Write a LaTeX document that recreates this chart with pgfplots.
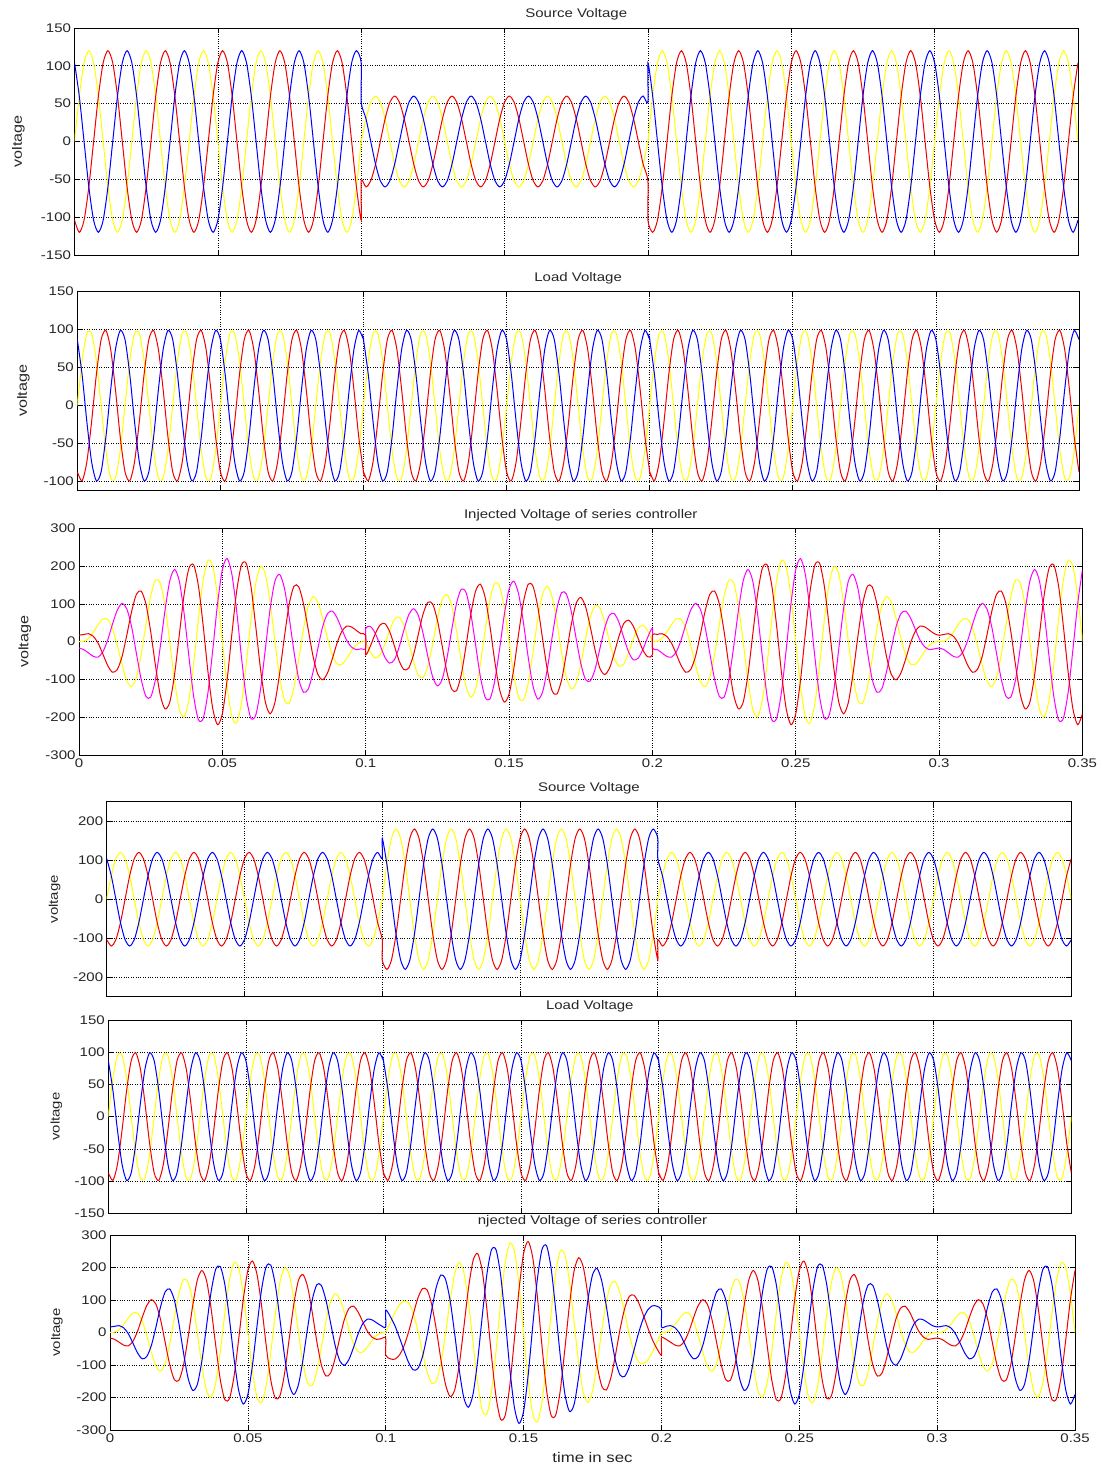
\documentclass[border=0pt]{standalone}
\usepackage{fontspec}
\setmainfont{Liberation Sans}[FakeStretch=1.2]
\usepackage{pgfplots}
\usepackage{pgfplotstable}
\pgfplotsset{compat=1.18}
\definecolor{Yel}{RGB}{255,255,0}
\definecolor{Red}{RGB}{240,0,0}
\definecolor{Blu}{RGB}{0,0,255}
\definecolor{Mag}{RGB}{255,0,255}

% k = sample index, 600 samples per second (t = k/600 s)
% s* source (sag), w* source (swell), l* load, d* injected (sag), e* injected (swell)
\pgfplotstableread{
k sy sr sb wy wr wb ly lr lb dy dr db ey er eb
0 0 -104 104 0 -104 104 0 -87 87 0 -17 17 0 -17 17
1 60 -120 60 60 -120 60 59 -99 41 1 -21 19 1 -21 19
2 104 -104 0 104 -104 0 95 -74 -21 9 -30 21 9 -30 21
3 120 -60 -60 120 -60 -60 95 -21 -74 25 -39 14 25 -39 14
4 104 0 -104 104 0 -104 59 41 -99 45 -41 -4 45 -41 -4
5 60 60 -120 60 60 -120 0 87 -87 60 -27 -33 60 -27 -33
6 0 104 -104 0 104 -104 -59 99 -41 59 4 -63 59 4 -63
7 -60 120 -60 -60 120 -60 -95 74 21 35 46 -81 35 46 -81
8 -104 104 0 -104 104 0 -95 21 74 -9 83 -74 -9 83 -74
9 -120 60 60 -120 60 60 -59 -41 99 -61 101 -40 -61 101 -40
10 -104 0 104 -104 0 104 0 -87 87 -104 87 17 -104 87 17
11 -60 -60 120 -60 -60 120 59 -99 41 -119 40 79 -119 40 79
12 0 -104 104 0 -104 104 95 -74 -21 -95 -30 125 -95 -30 125
13 60 -120 60 60 -120 60 95 -21 -74 -35 -99 134 -35 -99 134
14 104 -104 0 104 -104 0 59 41 -99 45 -145 100 45 -145 100
15 120 -60 -60 120 -60 -60 0 87 -87 120 -147 27 120 -147 27
16 104 0 -104 104 0 -104 -59 99 -41 163 -100 -63 163 -100 -63
17 60 60 -120 60 60 -120 -95 74 21 155 -14 -141 155 -14 -141
18 0 104 -104 0 104 -104 -95 21 74 95 83 -178 95 83 -178
19 -60 120 -60 -60 120 -60 -59 -41 99 -1 161 -160 -1 161 -160
20 -104 104 0 -104 104 0 0 -87 87 -104 191 -87 -104 191 -87
21 -120 60 60 -120 60 60 59 -99 41 -179 160 19 -179 160 19
22 -104 0 104 -104 0 104 95 -74 -21 -199 74 125 -199 74 125
23 -60 -60 120 -60 -60 120 95 -21 -74 -155 -39 194 -155 -39 194
24 0 -104 104 0 -104 104 59 41 -99 -59 -145 203 -59 -145 203
25 60 -120 60 60 -120 60 0 87 -87 60 -207 147 60 -207 147
26 104 -104 0 104 -104 0 -59 99 -41 163 -203 41 163 -203 41
27 120 -60 -60 120 -60 -60 -95 74 21 215 -134 -81 215 -134 -81
28 104 0 -104 104 0 -104 -95 21 74 199 -21 -178 199 -21 -178
29 60 60 -120 60 60 -120 -59 -41 99 119 101 -220 119 101 -220
30 0 104 -104 0 104 -104 0 -87 87 0 191 -191 0 191 -191
31 -60 120 -60 -60 120 -60 59 -99 41 -119 220 -101 -119 220 -101
32 -104 104 0 -104 104 0 95 -74 -21 -199 178 21 -199 178 21
33 -120 60 60 -120 60 60 95 -21 -74 -215 81 134 -215 81 134
34 -104 0 104 -104 0 104 59 41 -99 -163 -41 203 -163 -41 203
35 -60 -60 120 -60 -60 120 0 87 -87 -60 -147 207 -60 -147 207
36 0 -104 104 0 -104 104 -59 99 -41 59 -203 145 59 -203 145
37 60 -120 60 60 -120 60 -95 74 21 155 -194 39 155 -194 39
38 104 -104 0 104 -104 0 -95 21 74 199 -125 -74 199 -125 -74
39 120 -60 -60 120 -60 -60 -59 -41 99 179 -19 -160 179 -19 -160
40 104 0 -104 104 0 -104 0 -87 87 104 87 -191 104 87 -191
41 60 60 -120 60 60 -120 59 -99 41 1 160 -161 1 160 -161
42 0 104 -104 0 104 -104 95 -74 -21 -95 178 -83 -95 178 -83
43 -60 120 -60 -60 120 -60 95 -21 -74 -155 141 14 -155 141 14
44 -104 104 0 -104 104 0 59 41 -99 -163 63 100 -163 63 100
45 -120 60 60 -120 60 60 0 87 -87 -120 -27 147 -120 -27 147
46 -104 0 104 -104 0 104 -59 99 -41 -45 -100 145 -45 -100 145
47 -60 -60 120 -60 -60 120 -95 74 21 35 -134 99 35 -134 99
48 0 -104 104 0 -104 104 -95 21 74 95 -125 30 95 -125 30
49 60 -120 60 60 -120 60 -59 -41 99 119 -79 -40 119 -79 -40
50 104 -104 0 104 -104 0 0 -87 87 104 -17 -87 104 -17 -87
51 120 -60 -60 120 -60 -60 59 -99 41 61 40 -101 61 40 -101
52 104 0 -104 104 0 -104 95 -74 -21 9 74 -83 9 74 -83
53 60 60 -120 60 60 -120 95 -21 -74 -35 81 -46 -35 81 -46
54 0 104 -104 0 104 -104 59 41 -99 -59 63 -4 -59 63 -4
55 -60 120 -60 -60 120 -60 0 87 -87 -60 33 27 -60 33 27
56 -104 104 0 -104 104 0 -59 99 -41 -45 4 41 -45 4 41
57 -120 60 60 -120 60 60 -95 74 21 -25 -14 39 -25 -14 39
58 -104 0 104 -104 0 104 -95 21 74 -9 -21 30 -9 -21 30
59 -60 -60 120 -60 -60 120 -59 -41 99 -1 -19 21 -1 -19 21
60 0 -104 104 0 -104 104 0 -87 87 0 -17 17 0 -17 17
60 0 -52 52 0 -156 156 0 -87 87 0 35 -35 0 -69 69
61 30 -60 30 90 -180 90 59 -99 41 -29 40 -11 31 -81 49
62 52 -52 0 156 -156 0 95 -74 -21 -43 22 21 61 -82 21
63 60 -30 -30 180 -90 -90 95 -21 -74 -35 -9 44 85 -69 -16
64 52 0 -52 156 0 -156 59 41 -99 -7 -41 48 97 -41 -56
65 30 30 -60 90 90 -180 0 87 -87 30 -57 27 90 3 -93
66 0 52 -52 0 156 -156 -59 99 -41 59 -48 -11 59 56 -115
67 -30 60 -30 -90 180 -90 -95 74 21 65 -14 -51 5 106 -111
68 -52 52 0 -156 156 0 -95 21 74 43 31 -74 -61 135 -74
69 -60 30 30 -180 90 90 -59 -41 99 -1 71 -70 -121 131 -10
70 -52 0 52 -156 0 156 0 -87 87 -52 87 -35 -156 87 69
71 -30 -30 60 -90 -90 180 59 -99 41 -89 70 19 -149 10 139
72 0 -52 52 0 -156 156 95 -74 -21 -95 22 73 -95 -82 177
73 30 -60 30 90 -180 90 95 -21 -74 -65 -39 104 -5 -159 164
74 52 -52 0 156 -156 0 59 41 -99 -7 -93 100 97 -197 100
75 60 -30 -30 180 -90 -90 0 87 -87 60 -117 57 180 -177 -3
76 52 0 -52 156 0 -156 -59 99 -41 111 -100 -11 215 -100 -115
77 30 30 -60 90 90 -180 -95 74 21 125 -44 -81 185 16 -201
78 0 52 -52 0 156 -156 -95 21 74 95 31 -126 95 135 -230
79 -30 60 -30 -90 180 -90 -59 -41 99 29 101 -130 -31 221 -190
80 -52 52 0 -156 156 0 0 -87 87 -52 139 -87 -156 243 -87
81 -60 30 30 -180 90 90 59 -99 41 -119 130 -11 -239 190 49
82 -52 0 52 -156 0 156 95 -74 -21 -147 74 73 -251 74 177
83 -30 -30 60 -90 -90 180 95 -21 -74 -125 -9 134 -185 -69 254
84 0 -52 52 0 -156 156 59 41 -99 -59 -93 152 -59 -197 255
85 30 -60 30 90 -180 90 0 87 -87 30 -147 117 90 -267 177
86 52 -52 0 156 -156 0 -59 99 -41 111 -152 41 215 -255 41
87 60 -30 -30 180 -90 -90 -95 74 21 155 -104 -51 275 -164 -111
88 52 0 -52 156 0 -156 -95 21 74 147 -21 -126 251 -21 -230
89 30 30 -60 90 90 -180 -59 -41 99 89 71 -160 149 131 -280
90 0 52 -52 0 156 -156 0 -87 87 0 139 -139 0 243 -243
91 -30 60 -30 -90 180 -90 59 -99 41 -89 160 -71 -149 280 -131
92 -52 52 0 -156 156 0 95 -74 -21 -147 126 21 -251 230 21
93 -60 30 30 -180 90 90 95 -21 -74 -155 51 104 -275 111 164
94 -52 0 52 -156 0 156 59 41 -99 -111 -41 152 -215 -41 255
95 -30 -30 60 -90 -90 180 0 87 -87 -30 -117 147 -90 -177 267
96 0 -52 52 0 -156 156 -59 99 -41 59 -152 93 59 -255 197
97 30 -60 30 90 -180 90 -95 74 21 125 -134 9 185 -254 69
98 52 -52 0 156 -156 0 -95 21 74 147 -73 -74 251 -177 -74
99 60 -30 -30 180 -90 -90 -59 -41 99 119 11 -130 239 -49 -190
100 52 0 -52 156 0 -156 0 -87 87 52 87 -139 156 87 -243
101 30 30 -60 90 90 -180 59 -99 41 -29 130 -101 31 190 -221
102 0 52 -52 0 156 -156 95 -74 -21 -95 126 -31 -95 230 -135
103 -30 60 -30 -90 180 -90 95 -21 -74 -125 81 44 -185 201 -16
104 -52 52 0 -156 156 0 59 41 -99 -111 11 100 -215 115 100
105 -60 30 30 -180 90 90 0 87 -87 -60 -57 117 -180 3 177
106 -52 0 52 -156 0 156 -59 99 -41 7 -100 93 -97 -100 197
107 -30 -30 60 -90 -90 180 -95 74 21 65 -104 39 5 -164 159
108 0 -52 52 0 -156 156 -95 21 74 95 -73 -22 95 -177 82
109 30 -60 30 90 -180 90 -59 -41 99 89 -19 -70 149 -139 -10
110 52 -52 0 156 -156 0 0 -87 87 52 35 -87 156 -69 -87
111 60 -30 -30 180 -90 -90 59 -99 41 1 70 -71 121 10 -131
112 52 0 -52 156 0 -156 95 -74 -21 -43 74 -31 61 74 -135
113 30 30 -60 90 90 -180 95 -21 -74 -65 51 14 -5 111 -106
114 0 52 -52 0 156 -156 59 41 -99 -59 11 48 -59 115 -56
115 -30 60 -30 -90 180 -90 0 87 -87 -30 -27 57 -90 93 -3
116 -52 52 0 -156 156 0 -59 99 -41 7 -48 41 -97 56 41
117 -60 30 30 -180 90 90 -95 74 21 35 -44 9 -85 16 69
118 -52 0 52 -156 0 156 -95 21 74 43 -21 -22 -61 -21 82
119 -30 -30 60 -90 -90 180 -59 -41 99 29 11 -40 -31 -49 81
120 0 -52 52 0 -156 156 0 -87 87 0 35 -35 0 -69 69
120 0 -104 104 0 -104 104 0 -87 87 0 -17 17 0 -17 17
121 60 -120 60 60 -120 60 59 -99 41 1 -21 19 1 -21 19
122 104 -104 0 104 -104 0 95 -74 -21 9 -30 21 9 -30 21
123 120 -60 -60 120 -60 -60 95 -21 -74 25 -39 14 25 -39 14
124 104 0 -104 104 0 -104 59 41 -99 45 -41 -4 45 -41 -4
125 60 60 -120 60 60 -120 0 87 -87 60 -27 -33 60 -27 -33
126 0 104 -104 0 104 -104 -59 99 -41 59 4 -63 59 4 -63
127 -60 120 -60 -60 120 -60 -95 74 21 35 46 -81 35 46 -81
128 -104 104 0 -104 104 0 -95 21 74 -9 83 -74 -9 83 -74
129 -120 60 60 -120 60 60 -59 -41 99 -61 101 -40 -61 101 -40
130 -104 0 104 -104 0 104 0 -87 87 -104 87 17 -104 87 17
131 -60 -60 120 -60 -60 120 59 -99 41 -119 40 79 -119 40 79
132 0 -104 104 0 -104 104 95 -74 -21 -95 -30 125 -95 -30 125
133 60 -120 60 60 -120 60 95 -21 -74 -35 -99 134 -35 -99 134
134 104 -104 0 104 -104 0 59 41 -99 45 -145 100 45 -145 100
135 120 -60 -60 120 -60 -60 0 87 -87 120 -147 27 120 -147 27
136 104 0 -104 104 0 -104 -59 99 -41 163 -100 -63 163 -100 -63
137 60 60 -120 60 60 -120 -95 74 21 155 -14 -141 155 -14 -141
138 0 104 -104 0 104 -104 -95 21 74 95 83 -178 95 83 -178
139 -60 120 -60 -60 120 -60 -59 -41 99 -1 161 -160 -1 161 -160
140 -104 104 0 -104 104 0 0 -87 87 -104 191 -87 -104 191 -87
141 -120 60 60 -120 60 60 59 -99 41 -179 160 19 -179 160 19
142 -104 0 104 -104 0 104 95 -74 -21 -199 74 125 -199 74 125
143 -60 -60 120 -60 -60 120 95 -21 -74 -155 -39 194 -155 -39 194
144 0 -104 104 0 -104 104 59 41 -99 -59 -145 203 -59 -145 203
145 60 -120 60 60 -120 60 0 87 -87 60 -207 147 60 -207 147
146 104 -104 0 104 -104 0 -59 99 -41 163 -203 41 163 -203 41
147 120 -60 -60 120 -60 -60 -95 74 21 215 -134 -81 215 -134 -81
148 104 0 -104 104 0 -104 -95 21 74 199 -21 -178 199 -21 -178
149 60 60 -120 60 60 -120 -59 -41 99 119 101 -220 119 101 -220
150 0 104 -104 0 104 -104 0 -87 87 0 191 -191 0 191 -191
151 -60 120 -60 -60 120 -60 59 -99 41 -119 220 -101 -119 220 -101
152 -104 104 0 -104 104 0 95 -74 -21 -199 178 21 -199 178 21
153 -120 60 60 -120 60 60 95 -21 -74 -215 81 134 -215 81 134
154 -104 0 104 -104 0 104 59 41 -99 -163 -41 203 -163 -41 203
155 -60 -60 120 -60 -60 120 0 87 -87 -60 -147 207 -60 -147 207
156 0 -104 104 0 -104 104 -59 99 -41 59 -203 145 59 -203 145
157 60 -120 60 60 -120 60 -95 74 21 155 -194 39 155 -194 39
158 104 -104 0 104 -104 0 -95 21 74 199 -125 -74 199 -125 -74
159 120 -60 -60 120 -60 -60 -59 -41 99 179 -19 -160 179 -19 -160
160 104 0 -104 104 0 -104 0 -87 87 104 87 -191 104 87 -191
161 60 60 -120 60 60 -120 59 -99 41 1 160 -161 1 160 -161
162 0 104 -104 0 104 -104 95 -74 -21 -95 178 -83 -95 178 -83
163 -60 120 -60 -60 120 -60 95 -21 -74 -155 141 14 -155 141 14
164 -104 104 0 -104 104 0 59 41 -99 -163 63 100 -163 63 100
165 -120 60 60 -120 60 60 0 87 -87 -120 -27 147 -120 -27 147
166 -104 0 104 -104 0 104 -59 99 -41 -45 -100 145 -45 -100 145
167 -60 -60 120 -60 -60 120 -95 74 21 35 -134 99 35 -134 99
168 0 -104 104 0 -104 104 -95 21 74 95 -125 30 95 -125 30
169 60 -120 60 60 -120 60 -59 -41 99 119 -79 -40 119 -79 -40
170 104 -104 0 104 -104 0 0 -87 87 104 -17 -87 104 -17 -87
171 120 -60 -60 120 -60 -60 59 -99 41 61 40 -101 61 40 -101
172 104 0 -104 104 0 -104 95 -74 -21 9 74 -83 9 74 -83
173 60 60 -120 60 60 -120 95 -21 -74 -35 81 -46 -35 81 -46
174 0 104 -104 0 104 -104 59 41 -99 -59 63 -4 -59 63 -4
175 -60 120 -60 -60 120 -60 0 87 -87 -60 33 27 -60 33 27
176 -104 104 0 -104 104 0 -59 99 -41 -45 4 41 -45 4 41
177 -120 60 60 -120 60 60 -95 74 21 -25 -14 39 -25 -14 39
178 -104 0 104 -104 0 104 -95 21 74 -9 -21 30 -9 -21 30
179 -60 -60 120 -60 -60 120 -59 -41 99 -1 -19 21 -1 -19 21
180 0 -104 104 0 -104 104 0 -87 87 0 -17 17 0 -17 17
181 60 -120 60 60 -120 60 59 -99 41 1 -21 19 1 -21 19
182 104 -104 0 104 -104 0 95 -74 -21 9 -30 21 9 -30 21
183 120 -60 -60 120 -60 -60 95 -21 -74 25 -39 14 25 -39 14
184 104 0 -104 104 0 -104 59 41 -99 45 -41 -4 45 -41 -4
185 60 60 -120 60 60 -120 0 87 -87 60 -27 -33 60 -27 -33
186 0 104 -104 0 104 -104 -59 99 -41 59 4 -63 59 4 -63
187 -60 120 -60 -60 120 -60 -95 74 21 35 46 -81 35 46 -81
188 -104 104 0 -104 104 0 -95 21 74 -9 83 -74 -9 83 -74
189 -120 60 60 -120 60 60 -59 -41 99 -61 101 -40 -61 101 -40
190 -104 0 104 -104 0 104 0 -87 87 -104 87 17 -104 87 17
191 -60 -60 120 -60 -60 120 59 -99 41 -119 40 79 -119 40 79
192 0 -104 104 0 -104 104 95 -74 -21 -95 -30 125 -95 -30 125
193 60 -120 60 60 -120 60 95 -21 -74 -35 -99 134 -35 -99 134
194 104 -104 0 104 -104 0 59 41 -99 45 -145 100 45 -145 100
195 120 -60 -60 120 -60 -60 0 87 -87 120 -147 27 120 -147 27
196 104 0 -104 104 0 -104 -59 99 -41 163 -100 -63 163 -100 -63
197 60 60 -120 60 60 -120 -95 74 21 155 -14 -141 155 -14 -141
198 0 104 -104 0 104 -104 -95 21 74 95 83 -178 95 83 -178
199 -60 120 -60 -60 120 -60 -59 -41 99 -1 161 -160 -1 161 -160
200 -104 104 0 -104 104 0 0 -87 87 -104 191 -87 -104 191 -87
201 -120 60 60 -120 60 60 59 -99 41 -179 160 19 -179 160 19
202 -104 0 104 -104 0 104 95 -74 -21 -199 74 125 -199 74 125
203 -60 -60 120 -60 -60 120 95 -21 -74 -155 -39 194 -155 -39 194
204 0 -104 104 0 -104 104 59 41 -99 -59 -145 203 -59 -145 203
205 60 -120 60 60 -120 60 0 87 -87 60 -207 147 60 -207 147
206 104 -104 0 104 -104 0 -59 99 -41 163 -203 41 163 -203 41
207 120 -60 -60 120 -60 -60 -95 74 21 215 -134 -81 215 -134 -81
208 104 0 -104 104 0 -104 -95 21 74 199 -21 -178 199 -21 -178
209 60 60 -120 60 60 -120 -59 -41 99 119 101 -220 119 101 -220
210 0 104 -104 0 104 -104 0 -87 87 0 191 -191 0 191 -191
}\data

\pgfplotsset{
  panel/.style={
    scale only axis,
    xmin=0, xmax=210,
    xtick={0,30,...,210}, xticklabels={},
    grid=major,
    major grid style={black, dotted, line width=0.7pt},
    tick align=inside,
    major tick length=5pt,
    axis line style={black, line width=0.7pt},
    every tick/.style={black, line width=0.7pt},
    /pgf/number format/assume math mode=true,
    ticklabel style={font=\fontsize{12.5}{13}\selectfont, text=black!85},
    title style={at={(0.5,1)}, anchor=base, yshift=4pt, inner sep=0pt,
      font=\fontsize{12.5}{13}\selectfont, text=black!85},
    ylabel style={at={(axis description cs:0,0.5)}, anchor=center,
      font=\fontsize{13.5}{14}\selectfont, text=black!85},
    ylabel={voltage},
    every axis plot/.append style={line width=1pt, no markers, smooth, tension=0.45},
  },
}

\begin{document}
\begin{tikzpicture}
\path[use as bounding box] (0pt,0pt) rectangle (1101pt,1465pt);

% upper set: voltage sag
\begin{axis}[panel, at={(74.5pt,1210pt)}, width=1003.5pt, height=227pt,
  ymin=-150, ymax=150, ytick={-150,-100,...,150},
  title={Source Voltage}, ylabel style={yshift=56pt}]
\addplot[Yel] table[x=k,y=sy]{\data};
\addplot[Red] table[x=k,y=sr]{\data};
\addplot[Blu] table[x=k,y=sb]{\data};
\end{axis}

\begin{axis}[panel, at={(77.3pt,975pt)}, width=1001.7pt, height=198.3pt,
  ymin=-111, ymax=150, ytick={-100,-50,...,150},
  title={Load Voltage}, ylabel style={yshift=54pt}]
\addplot[Yel] table[x=k,y=ly]{\data};
\addplot[Red] table[x=k,y=lr]{\data};
\addplot[Blu] table[x=k,y=lb]{\data};
\end{axis}

\begin{axis}[panel, at={(79pt,710pt)}, width=1003.5pt, height=226.7pt,
  ymin=-300, ymax=300, ytick={-300,-200,...,300},
  xticklabels={0,0.05,0.1,0.15,0.2,0.25,0.3,0.35},
  title={Injected Voltage of series controller}, ylabel style={yshift=54pt}]
\addplot[Yel] table[x=k,y=dy]{\data};
\addplot[Mag] table[x=k,y=dr]{\data};
\addplot[Red] table[x=k,y=db]{\data};
\end{axis}

% lower set: voltage swell
\begin{axis}[panel, at={(106.7pt,468.3pt)}, width=964.5pt, height=195pt,
  ymin=-250, ymax=250, ytick={-200,-100,...,200},
  title={Source Voltage},
  ylabel style={yshift=52pt, font=\fontsize{12.5}{13}\selectfont}]
\addplot[Yel] table[x=k,y=wy]{\data};
\addplot[Red] table[x=k,y=wr]{\data};
\addplot[Blu] table[x=k,y=wb]{\data};
\end{axis}

\begin{axis}[panel, at={(108.3pt,251.7pt)}, width=963pt, height=193.3pt,
  ymin=-150, ymax=150, ytick={-150,-100,...,150},
  title={Load Voltage},
  ylabel style={yshift=52pt, font=\fontsize{12.5}{13}\selectfont}]
\addplot[Yel] table[x=k,y=ly]{\data};
\addplot[Red] table[x=k,y=lr]{\data};
\addplot[Blu] table[x=k,y=lb]{\data};
\end{axis}

\begin{axis}[panel, at={(110pt,35pt)}, width=965pt, height=195pt,
  ymin=-300, ymax=300, ytick={-300,-200,...,300},
  xticklabels={0,0.05,0.1,0.15,0.2,0.25,0.3,0.35},
  title={njected Voltage of series controller},
  ylabel style={yshift=53pt, font=\fontsize{12.5}{13}\selectfont},
  xlabel={time in sec},
  xlabel style={at={(axis description cs:0.5,0)}, anchor=base, yshift=-32pt,
    font=\fontsize{14}{15}\selectfont, text=black!85}]
\addplot[Yel] table[x=k,y=ey]{\data};
\addplot[Red] table[x=k,y=er]{\data};
\addplot[Blu] table[x=k,y=eb]{\data};
\end{axis}
\end{tikzpicture}
\end{document}
